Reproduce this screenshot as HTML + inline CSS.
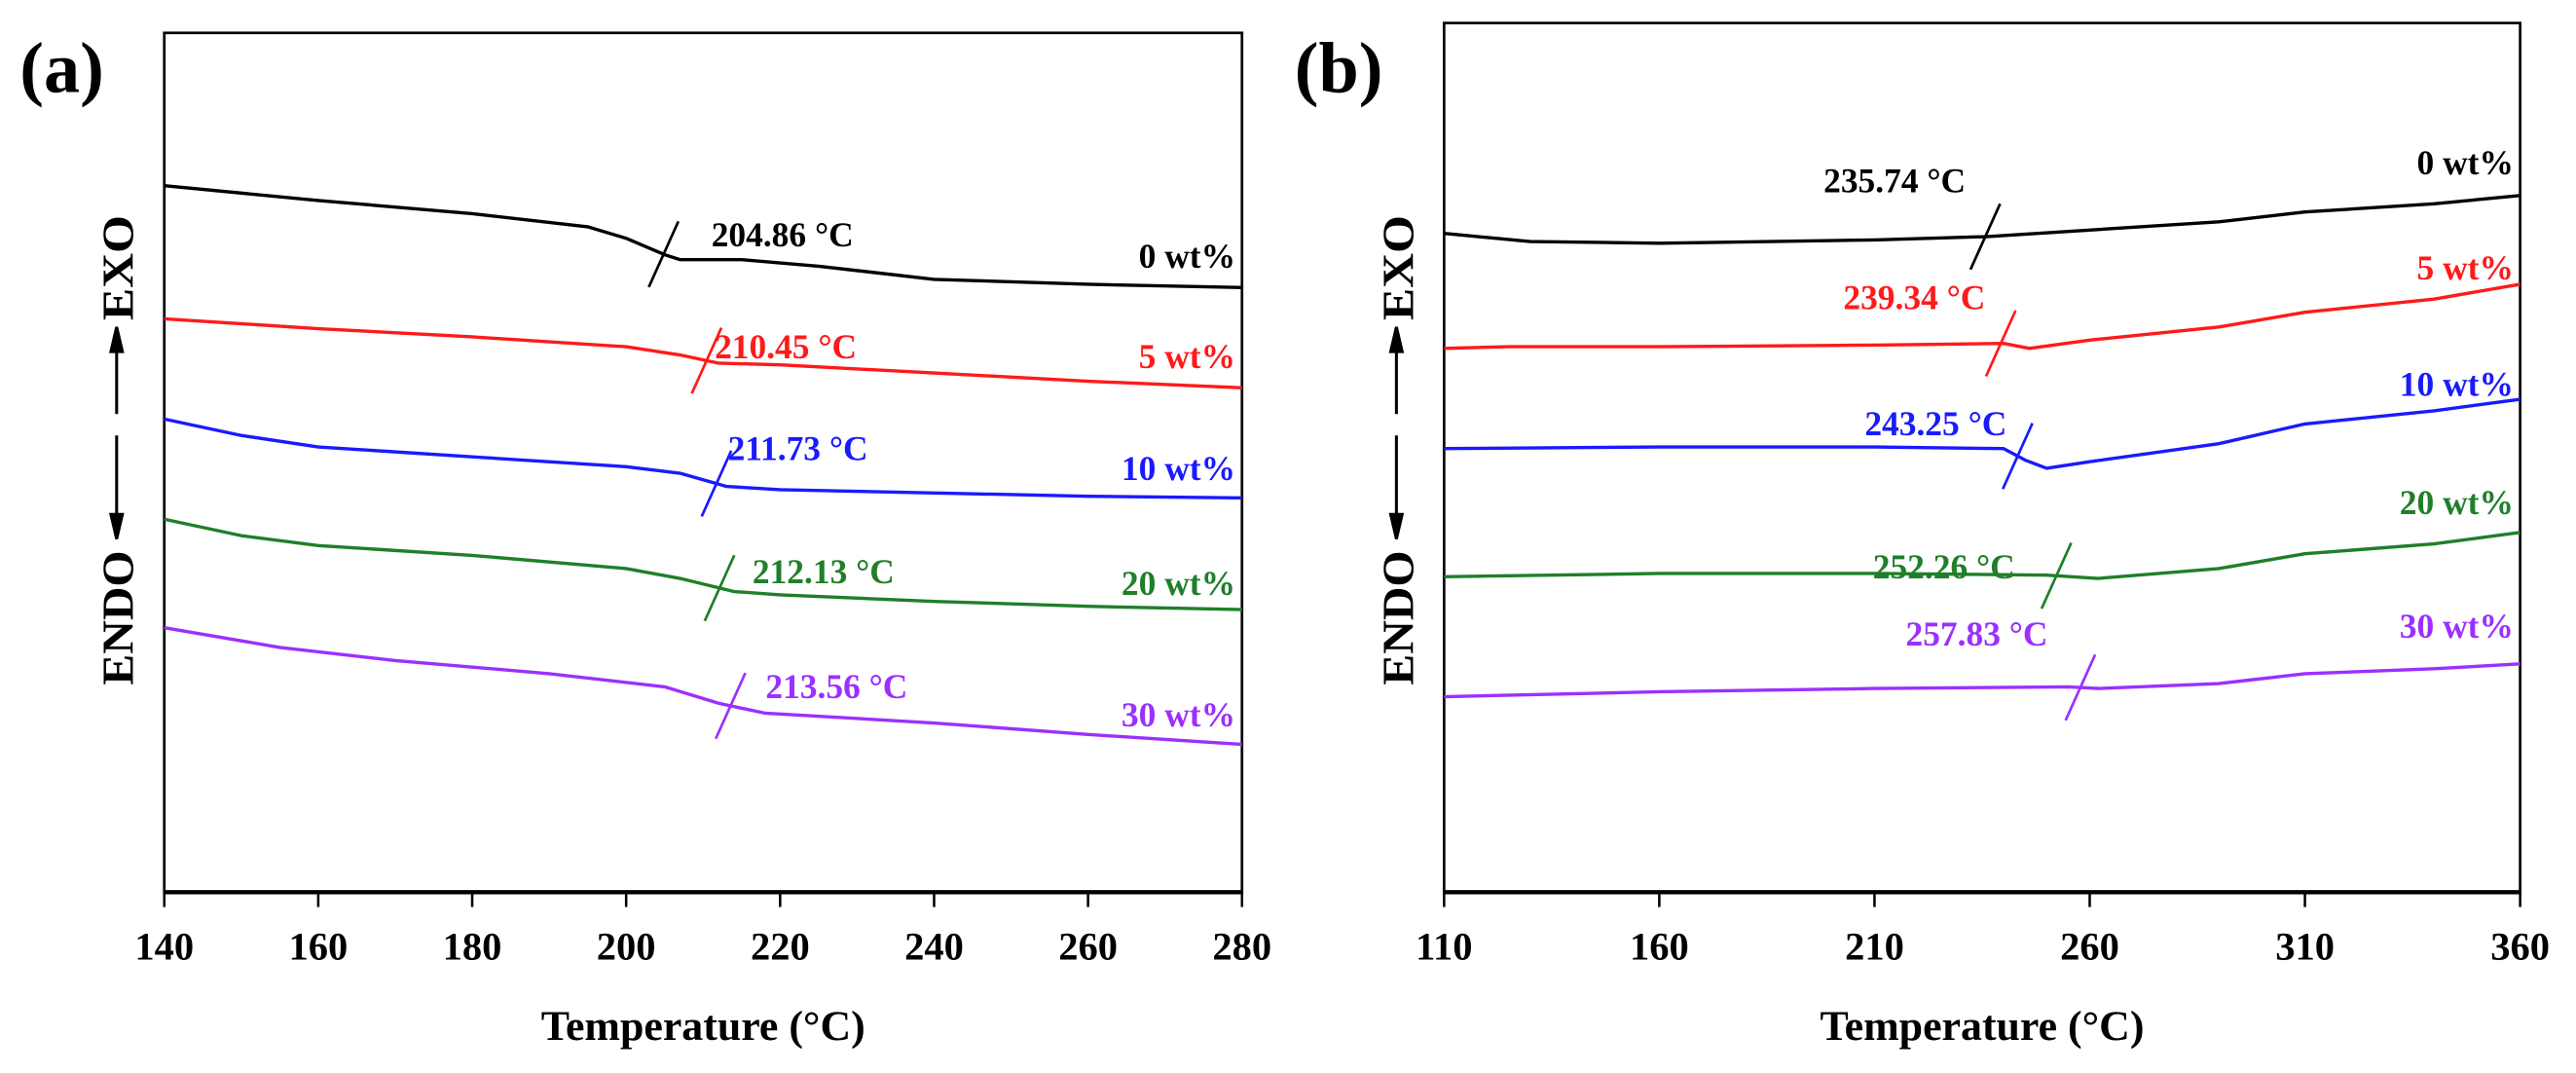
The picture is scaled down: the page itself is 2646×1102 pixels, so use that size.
<!DOCTYPE html>
<html><head><meta charset="utf-8"><style>
html,body{margin:0;padding:0;background:#fff;}
svg{display:block;font-family:"Liberation Serif",serif;font-weight:bold;}
</style></head><body>
<svg id="fig" width="2646" height="1102" viewBox="0 0 1568 653" xmlns="http://www.w3.org/2000/svg"></svg>
<script>
// ---- Panel (a) data ----
const aTicks = [140,160,180,200,220,240,260,280];
const aTemps0 = [140,160,180,195,200,205,207,215,225,240,260,280];
const aVals0  = [430,421,413,405,398,388,385,385,381,373,370,368];
const aTemps5 = [140,160,180,200,207,212,220,240,260,280];
const aVals5  = [349,343,338,332,327,322,321,316,311,307];
const aTemps10 = [140,150,160,180,200,207,213,220,240,260,280];
const aVals10  = [288,278,271,265,259,255,247,245,243,241,240];
const aTemps20 = [140,150,160,180,200,207,214,220,240,260,280];
const aVals20  = [227,217,211,205,197,191,183,181,177,174,172];
const aTemps30 = [140,155,170,190,205,212,218,240,260,280];
const aVals30  = [161,149,141,133,125,115,109,103,96,90];
const aTg = [204.86,210.45,211.73,212.13,213.56];
const aTgLabels = ["204.86 °C","210.45 °C","211.73 °C","212.13 °C","213.56 °C"];
// ---- Panel (b) data ----
const bTicks = [110,160,210,260,310,360];
const bTemps0 = [110,130,160,210,236,260,290,310,340,360];
const bVals0  = [401,396,395,397,399,403,408,414,419,424];
const bTemps5 = [110,125,160,210,240,246,260,290,310,340,360];
const bVals5  = [331,332,332,333,334,331,336,344,353,361,370];
const bTemps10 = [110,160,210,240,245,250,260,290,310,340,360];
const bVals10  = [270,271,271,270,263,258,262,273,285,293,300];
const bTemps20 = [110,160,210,250,262,290,310,340,360];
const bVals20  = [192,194,194,193,191,197,206,212,219];
const bTemps30 = [110,160,210,255,262,290,310,340,360];
const bVals30  = [119,122,124,125,124,127,133,136,139];
const bTg = [235.74,239.34,243.25,252.26,257.83];
const bTgLabels = ["235.74 °C","239.34 °C","243.25 °C","252.26 °C","257.83 °C"];
const seriesNames = ["0 wt%","5 wt%","10 wt%","20 wt%","30 wt%"];
const colors = ["#000000","#ff1a1a","#1a1aff","#1f7f2a","#9b30ff"];

const NS="http://www.w3.org/2000/svg";
const svg=document.getElementById('fig');
function mk(tag,attrs,parent){const e=document.createElementNS(NS,tag);for(const k in attrs)e.setAttribute(k,attrs[k]);(parent||svg).appendChild(e);return e;}
function interp(ts,vs,t){for(let i=0;i<ts.length-1;i++){if(t>=ts[i]&&t<=ts[i+1]){const f=(t-ts[i])/(ts[i+1]-ts[i]);return vs[i]+f*(vs[i+1]-vs[i]);}}return vs[vs.length-1];}

function panel(cfg){
  const xs=t=>cfg.x0+(t-cfg.t0)/(cfg.t1-cfg.t0)*(cfg.x1-cfg.x0);
  const ys=v=>543-v;
  const g=mk('g',{});
  
  
  const fr=mk('rect',{x:cfg.x0,y:cfg.top,width:cfg.x1-cfg.x0,height:543-cfg.top,fill:'none',stroke:'#000','stroke-width':1.6},g);
  
  
  const bot=mk('line',{x1:cfg.x0,y1:543,x2:cfg.x1,y2:543,stroke:'#000','stroke-width':2.6},g);
  
  
  cfg.ticks.forEach(t=>{
    const tk=mk('line',{x1:xs(t),y1:543,x2:xs(t),y2:552,stroke:'#000','stroke-width':1.5},g);
    
    
    const tl=mk('text',{x:xs(t),y:584,'text-anchor':'middle','font-size':24},g);
    tl.textContent=t;
    
    
  });
  const xt=mk('text',{x:(cfg.x0+cfg.x1)/2,y:633,'text-anchor':'middle','font-size':26},g);
  xt.textContent='Temperature (°C)';
  
  
  const pl=mk('text',{x:cfg.labX,y:56,'font-size':44},g);
  pl.textContent=cfg.label;
  
  
  // y label
  const yx=cfg.yLabX;
  const endo=mk('text',{x:0,y:0,'text-anchor':'middle','font-size':27,textLength:82,lengthAdjust:'spacingAndGlyphs',transform:`translate(${yx+10},376) rotate(-90)`},g);
  endo.textContent='ENDO';
  
  
  const exo=mk('text',{x:0,y:0,'text-anchor':'middle','font-size':27,textLength:64,lengthAdjust:'spacingAndGlyphs',transform:`translate(${yx+10},163) rotate(-90)`},g);
  exo.textContent='EXO';
  
  
  const up=mk('path',{d:`M${yx} 252 L${yx} 206 M${yx-3.5} 214 L${yx} 199 L${yx+3.5} 214 Z`,stroke:'#000','stroke-width':1.8,fill:'#000'},g);
  
  
  const dn=mk('path',{d:`M${yx} 265 L${yx} 320 M${yx-3.5} 313 L${yx} 328 L${yx+3.5} 313 Z`,stroke:'#000','stroke-width':1.8,fill:'#000'},g);
  
  
  cfg.series.forEach((s,i)=>{
    const d=s[0].map((t,j)=>(j?'L':'M')+xs(t).toFixed(1)+' '+ys(s[1][j]).toFixed(1)).join(' ');
    const p=mk('path',{d:d,fill:'none',stroke:colors[i],'stroke-width':2,'stroke-linejoin':'round'},g);
    
    
    const tx=xs(cfg.tg[i]), ty=ys(interp(s[0],s[1],cfg.tg[i]));
    const m=mk('line',{x1:tx-9,y1:ty+20,x2:tx+9,y2:ty-20,stroke:colors[i],'stroke-width':1.6},g);
    
    
    const lt=mk('text',{x:cfg.tgPos[i][0],y:cfg.tgPos[i][1],'font-size':21,fill:colors[i]},g);
    lt.textContent=cfg.tgLabels[i];
    
    
    const sl=mk('text',{x:cfg.x1-4,y:cfg.namePos[i],'text-anchor':'end','font-size':21,fill:colors[i]},g);
    sl.textContent=seriesNames[i];
    
    
  });
}
panel({name:'panel-a',x0:100,x1:756,top:20,t0:140,t1:280,ticks:aTicks,label:'(a)',labX:12,yLabX:71,
  series:[[aTemps0,aVals0],[aTemps5,aVals5],[aTemps10,aVals10],[aTemps20,aVals20],[aTemps30,aVals30]],
  tg:aTg,tgLabels:aTgLabels,tgPos:[[433,150],[435,218],[443,280],[458,355],[466,425]],namePos:[163,224,292,362,442]});
panel({name:'panel-b',x0:879,x1:1534,top:14,t0:110,t1:360,ticks:bTicks,label:'(b)',labX:788,yLabX:850,
  series:[[bTemps0,bVals0],[bTemps5,bVals5],[bTemps10,bVals10],[bTemps20,bVals20],[bTemps30,bVals30]],
  tg:bTg,tgLabels:bTgLabels,tgPos:[[1110,117],[1122,188],[1135,265],[1140,352],[1160,393]],namePos:[106,170,241,313,388]});
</script>
</body></html>
